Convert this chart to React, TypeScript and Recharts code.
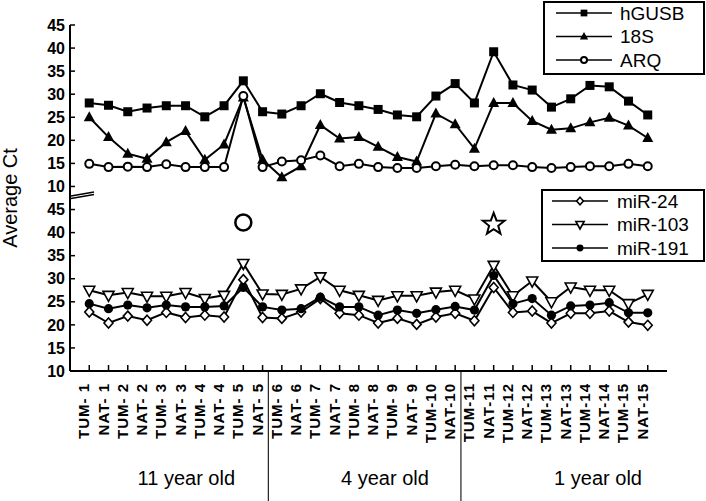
import React from 'react';
import { ComposedChart, Line, XAxis, YAxis, ReferenceLine, Scatter } from 'recharts';

const FONT = '"Liberation Sans", Arial, sans-serif';

const samples = ['TUM- 1','NAT- 1','TUM- 2','NAT- 2','TUM- 3','NAT- 3','TUM- 4','NAT- 4','TUM- 5','NAT- 5','TUM- 6','NAT- 6','TUM- 7','NAT- 7','TUM- 8','NAT- 8','TUM- 9','NAT- 9','TUM-10','NAT-10','TUM-11','NAT-11','TUM-12','NAT-12','TUM-13','NAT-13','TUM-14','NAT-14','TUM-15','NAT-15'];

// upper panel (reference genes)
const hGUSB = [28.1,27.6,26.2,27.0,27.5,27.5,25.1,27.5,32.9,26.2,25.7,27.5,30.1,28.2,27.5,26.7,25.5,25.1,29.6,32.3,28.1,39.2,32.0,30.9,27.2,29.0,31.9,31.6,28.5,25.5];
const s18S = [25.0,20.7,17.1,16.0,19.6,22.0,15.8,19.1,29.3,15.8,12.0,14.4,23.3,20.4,20.7,18.6,16.4,15.4,25.8,23.5,18.2,28.1,28.1,24.2,22.3,22.6,23.9,24.9,23.2,20.5];
const ARQ = [14.9,14.2,14.3,14.2,14.8,14.2,14.2,14.2,29.6,14.2,15.4,15.7,16.7,14.4,14.9,14.2,14.0,14.0,14.4,14.7,14.4,14.6,14.6,14.2,14.0,14.2,14.4,14.4,14.9,14.4];
// lower panel (miRNAs)
const miR24 = [22.8,20.4,21.9,21.0,22.7,21.6,22.1,21.7,29.8,21.6,21.4,22.8,25.7,22.5,22.1,20.4,21.4,20.1,21.7,22.5,20.9,28.1,22.7,23.0,20.4,22.5,22.5,23.0,20.6,19.9];
const miR103 = [27.5,26.4,27.0,26.2,26.2,27.0,25.7,26.4,33.3,26.7,26.6,27.8,30.4,27.5,26.4,25.3,26.3,26.3,27.1,27.5,25.6,32.9,26.3,29.5,25.0,28.2,27.5,27.5,24.6,26.6];
const miR191 = [24.6,23.5,24.3,23.7,24.3,23.9,23.9,24.1,28.1,23.9,23.2,23.5,26.0,23.9,23.9,22.1,23.2,22.5,23.3,24.0,23.2,30.7,24.6,25.7,22.1,24.1,24.3,24.8,22.6,22.6];

// annotation marks (lower panel)
const circleMark = [{ sample: 'TUM- 5', value: 42.2 }];
const starMark = [{ sample: 'NAT-11', value: 41.8 }];

const groupLabels = ['11 year old', '4 year old', '1 year old'];
const groupCenters = [5.65, 15.3, 25.65];
const groupBounds = [10.3, 20.3];
const panelTicks = [10, 15, 20, 25, 30, 35, 40, 45];
const breakValue = 8.15; // upper-panel value where the axis break is drawn

// broken axis: lower panel 10..45 -> 0..35, upper panel 10..45 -> 40..75
const lowerPos = (v: number) => v - 10;
const upperPos = (v: number) => v + 30;

type Series = { key: string; name: string; values: number[]; panel: 'upper' | 'lower'; marker: string };
const upperSeries: Series[] = [
  { key: 'hGUSB', name: 'hGUSB', values: hGUSB, panel: 'upper', marker: 'square' },
  { key: 's18S', name: '18S', values: s18S, panel: 'upper', marker: 'triUp' },
  { key: 'ARQ', name: 'ARQ', values: ARQ, panel: 'upper', marker: 'circleOpen' },
];
const lowerSeries: Series[] = [
  { key: 'miR24', name: 'miR-24', values: miR24, panel: 'lower', marker: 'diamond' },
  { key: 'miR103', name: 'miR-103', values: miR103, panel: 'lower', marker: 'triDown' },
  { key: 'miR191', name: 'miR-191', values: miR191, panel: 'lower', marker: 'circleFilled' },
];
const allSeries = [...upperSeries, ...lowerSeries];

const data = samples.map((s, i) => {
  const row: any = { idx: i + 1, sample: s };
  allSeries.forEach((se) => {
    row[se.key] = se.panel === 'upper' ? upperPos(se.values[i]) : lowerPos(se.values[i]);
  });
  return row;
});
const circleData = circleMark.map((m) => ({ idx: samples.indexOf(m.sample) + 1, val: lowerPos(m.value) }));
const starData = starMark.map((m) => ({ idx: samples.indexOf(m.sample) + 1, val: lowerPos(m.value) }));

const xTicks = samples.map((_, i) => i + 1);
const yTicks = [...panelTicks.map(lowerPos), ...panelTicks.map(upperPos)];
const yFmt = (v: number) => String(v <= 35 ? v + 10 : v - 30);

function Marker({ kind, cx, cy, s = 1 }: { kind: string; cx: number; cy: number; s?: number }) {
  switch (kind) {
    case 'square':
      return <rect x={cx - 4.5 * s} y={cy - 4.5 * s} width={9 * s} height={9 * s} fill="#000" />;
    case 'triUp':
      return <polygon points={`${cx},${cy - 6 * s} ${cx - 5.5 * s},${cy + 4 * s} ${cx + 5.5 * s},${cy + 4 * s}`} fill="#000" />;
    case 'circleOpen':
      return <circle cx={cx} cy={cy} r={4 * s} fill="#fff" stroke="#000" strokeWidth={2} />;
    case 'diamond':
      return <polygon points={`${cx},${cy - 5 * s} ${cx + 4.5 * s},${cy} ${cx},${cy + 5 * s} ${cx - 4.5 * s},${cy}`} fill="#fff" stroke="#000" strokeWidth={1.6} />;
    case 'triDown':
      return <polygon points={`${cx - 5.5 * s},${cy - 4 * s} ${cx + 5.5 * s},${cy - 4 * s} ${cx},${cy + 6 * s}`} fill="#fff" stroke="#000" strokeWidth={1.6} />;
    case 'circleFilled':
      return <circle cx={cx} cy={cy} r={4.6 * s} fill="#000" />;
    default:
      return <g />;
  }
}

const makeDot = (kind: string) => (p: any) => {
  const { cx, cy, index } = p;
  if (cx == null || cy == null) return <g key={`d${index}`} />;
  return <g key={`d${index}`}><Marker kind={kind} cx={cx} cy={cy} /></g>;
};

const XTick = (p: any) => {
  const { x, y, payload } = p;
  const label = samples[payload.value - 1] ?? '';
  return (
    <text x={x} y={y} transform={`rotate(-90 ${x} ${y})`} textAnchor="end" fontFamily={FONT}
      fontSize={15} fontWeight="bold" letterSpacing={1} fill="#000">{label}</text>
  );
};

const GroupTick = (p: any) => {
  const { x, y, index } = p;
  return (
    <text x={x} y={y + 34} textAnchor="middle" fontFamily={FONT} fontSize={20} fill="#000">{groupLabels[index]}</text>
  );
};

const EmptyTick = () => <g />;

const SepShape = (p: any) => {
  const yb = Math.max(p.y1, p.y2);
  return <line x1={p.x1} y1={yb} x2={p.x1} y2={yb + 130} stroke="#222" strokeWidth={1.2} />;
};

const BreakShape = (p: any) => {
  const x0 = Math.min(p.x1, p.x2);
  const y = p.y1;
  return (
    <g>
      <line x1={x0 + 1} y1={y + 1} x2={x0 + 24} y2={y - 3} stroke="#000" strokeWidth={1.3} />
      <line x1={x0 + 1} y1={y + 3.5} x2={x0 + 24} y2={y - 0.5} stroke="#000" strokeWidth={1.3} />
    </g>
  );
};

const CircleShape = (p: any) => <circle cx={p.cx} cy={p.cy} r={8} fill="#fff" stroke="#000" strokeWidth={2.5} />;
const StarShape = (p: any) => {
  const pts: string[] = [];
  for (let k = 0; k < 10; k++) {
    const r = k % 2 === 0 ? 11.5 : 4.8;
    const a = -Math.PI / 2 + (k * Math.PI) / 5;
    pts.push(`${p.cx + r * Math.cos(a)},${p.cy + r * Math.sin(a)}`);
  }
  return <polygon points={pts.join(' ')} fill="#fff" stroke="#000" strokeWidth={2} />;
};

const YLabel = (p: any) => {
  const vb = p.viewBox || { x: 8, y: 25, width: 62, height: 346 };
  const cx = 17;
  const cy = vb.y + vb.height / 2;
  return (
    <text x={cx} y={cy} transform={`rotate(-90 ${cx} ${cy})`} textAnchor="middle" fontFamily={FONT} fontSize={20} fill="#000">Average Ct</text>
  );
};

function LegendBox({ items, left, top, width, height, lineX0, lineX1, textX }: any) {
  const rows = [12, 35.5, 59];
  return (
    <div style={{ position: 'absolute', left, top, width, height, boxSizing: 'border-box', border: '2px solid #000', background: '#fff', zIndex: 10 }}>
      <svg width={width - 4} height={height - 4} style={{ position: 'absolute', left: 0, top: 0 }}>
        {items.map((it: Series, i: number) => {
          const cy = rows[i] - 2;
          const mid = (lineX0 + lineX1) / 2;
          return (
            <g key={it.key}>
              <line x1={lineX0} y1={cy} x2={lineX1} y2={cy} stroke="#000" strokeWidth={1.6} />
              <Marker kind={it.marker} cx={mid} cy={cy} s={0.75} />
              <text x={textX} y={cy} dominantBaseline="central" fontFamily={FONT} fontSize={19} fill="#000">{it.name}</text>
            </g>
          );
        })}
      </svg>
    </div>
  );
}

export default function App() {
  const tickStyle = { fill: '#000', fontSize: 16, fontWeight: 'bold' as const, fontFamily: FONT };
  return (
    <div style={{ position: 'absolute', left: 0, top: 0, width: 706, height: 501, background: '#fff' }}>
      <ComposedChart width={706} height={501} data={data} margin={{ top: 25, right: 39, bottom: 0, left: 8 }}>
        <XAxis xAxisId="a" dataKey="idx" type="number" domain={[0, 31]} ticks={xTicks} interval={0}
          height={80} tickSize={-6} tickMargin={18} tick={<XTick />}
          axisLine={{ stroke: '#000', strokeWidth: 2 }} tickLine={{ stroke: '#000', strokeWidth: 1.5 }} />
        <XAxis xAxisId="b" type="number" domain={[0, 31]} ticks={groupCenters} interval={0}
          height={50} axisLine={false} tickLine={false} tickSize={0} tickMargin={0} tick={<GroupTick />} />
        <XAxis xAxisId="c" orientation="top" type="number" domain={[0, 31]} ticks={xTicks} interval={0}
          height={0} tickSize={-6} tick={<EmptyTick />}
          axisLine={{ stroke: '#000', strokeWidth: 2 }} tickLine={{ stroke: '#000', strokeWidth: 1.5 }} />
        <YAxis yAxisId="left" type="number" domain={[0, 75]} ticks={yTicks} interval={0} width={62}
          tickSize={-5} tickMargin={10} tickFormatter={yFmt} tick={tickStyle}
          axisLine={{ stroke: '#000', strokeWidth: 2 }} tickLine={{ stroke: '#000', strokeWidth: 1.5 }}
          label={<YLabel />} />
        <YAxis yAxisId="right" orientation="right" type="number" domain={[0, 75]} ticks={yTicks} interval={0} width={0}
          tickSize={-5} tick={<EmptyTick />}
          axisLine={{ stroke: '#000', strokeWidth: 2 }} tickLine={{ stroke: '#000', strokeWidth: 1.5 }} />

        {groupBounds.map((b) => (
          <ReferenceLine key={b} xAxisId="a" yAxisId="left" x={b} shape={<SepShape />} />
        ))}
        <ReferenceLine xAxisId="a" yAxisId="left" y={upperPos(breakValue)} shape={<BreakShape />} />

        {allSeries.map((se) => (
          <Line key={se.key} xAxisId="a" yAxisId="left" dataKey={se.key} name={se.name} type="linear"
            stroke="#000" strokeWidth={2} dot={makeDot(se.marker)} activeDot={false} isAnimationActive={false} />
        ))}
        <Scatter xAxisId="a" yAxisId="left" data={circleData} dataKey="val" shape={<CircleShape />} isAnimationActive={false} />
        <Scatter xAxisId="a" yAxisId="left" data={starData} dataKey="val" shape={<StarShape />} isAnimationActive={false} />
      </ComposedChart>
      <LegendBox items={upperSeries} left={543} top={1} width={162} height={74} lineX0={11} lineX1={67} textX={75} />
      <LegendBox items={lowerSeries} left={541} top={189} width={164} height={73} lineX0={9} lineX1={65} textX={74} />
    </div>
  );
}
